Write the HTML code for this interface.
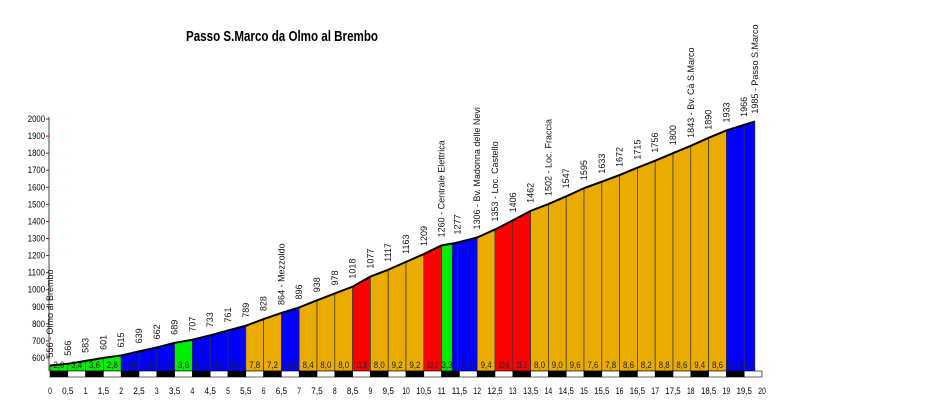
<!DOCTYPE html>
<html><head><meta charset="utf-8"><style>
html,body{margin:0;padding:0;background:#fff;}
svg{display:block;font-family:"Liberation Sans",sans-serif;}
</style></head><body>
<svg id="chart" width="935" height="406" viewBox="0 0 935 406" xmlns="http://www.w3.org/2000/svg">
<text x="186" y="41" font-size="15" font-weight="bold" textLength="192" lengthAdjust="spacingAndGlyphs">Passo S.Marco da Olmo al Brembo</text>
<g id="plot"></g>
</svg>
<script>
const distances = [0,0.5,1,1.5,2,2.5,3,3.5,4,4.5,5,5.5,6,6.5,7,7.5,8,8.5,9,9.5,10,10.5,11,11.3,11.45,12,12.5,13,13.5,14,14.5,15,15.5,16,16.5,17,17.5,18,18.5,19,19.5,19.8];
const elevations = [556,566,583,601,615,639,662,689,707,733,761,789,828,864,896,938,978,1018,1077,1117,1163,1209,1260,1270,1277,1306,1353,1406,1462,1502,1547,1595,1633,1672,1715,1756,1800,1843,1890,1933,1966,1985];
const pointNames = {0:"Olmo al Brembo",13:"Mezzoldo",22:"Centrale Elettrica",25:"Bv. Madonna delle Nevi",26:"Loc. Castello",29:"Loc. Fraccia",37:"Bv. Cà S.Marco",41:"Passo S.Marco"};
const hiddenPointLabels = [23];
const gradients = ["2,0","3,4","3,6","2,8","4,8","4,6","5,4","3,6","5,2","5,6","5,6","7,8","7,2","6,4","8,4","8,0","8,0","11,8","8,0","9,2","9,2","10,2","3,3","","5,8","9,4","10,6","11,2","8,0","9,0","9,6","7,6","7,8","8,6","8,2","8,8","8,6","9,4","8,6","6,6","6,3"];
const yTicks = [600,700,800,900,1000,1100,1200,1300,1400,1500,1600,1700,1800,1900,2000];
const xTicks = ["0","0,5","1","1,5","2","2,5","3","3,5","4","4,5","5","5,5","6","6,5","7","7,5","8","8,5","9","9,5","10","10,5","11","11,5","12","12,5","13","13,5","14","14,5","15","15,5","16","16,5","17","17,5","18","18,5","19","19,5","20"];

const X0=50, KM=35.6, Y600=358, PX100=17.07, BASE=371;
const xs = d => X0 + d*KM;
const ys = e => Y600 - (e-600)*PX100/100;
const NS="http://www.w3.org/2000/svg";
const g=document.getElementById('plot');
function mk(tag,attrs,parent){const e=document.createElementNS(NS,tag);for(const k in attrs)e.setAttribute(k,attrs[k]);(parent||g).appendChild(e);return e;}
function colorFor(p){return p<4?'#00ee00':p<7?'#0000ff':p<10?'#eaac00':'#ff0000';}

// y axis
let ax=mk('line',{x1:49,y1:117,x2:49,y2:BASE,stroke:'#444','stroke-width':1});


yTicks.forEach(v=>{
  const y=ys(v);
  const t=mk('line',{x1:46,y1:y,x2:49,y2:y,stroke:'#d00','stroke-width':1});
  
  
  const l=mk('text',{x:45,y:y+3,'font-size':9,'text-anchor':'end',textLength:(String(v).length*4.3),lengthAdjust:'spacingAndGlyphs'});
  l.textContent=v;
  
  
});

// segments
for(let i=0;i<distances.length-1;i++){
  const x1=xs(distances[i]),x2=xs(distances[i+1]),y1=ys(elevations[i]),y2=ys(elevations[i+1]);
  const p=(elevations[i+1]-elevations[i])/((distances[i+1]-distances[i])*1000)*100;
  const poly=mk('polygon',{points:`${x1},${BASE} ${x1},${y1} ${x2},${y2} ${x2},${BASE}`,fill:colorFor(p),stroke:'#333','stroke-width':0.7});
  
  
  if(gradients[i]){
    const gt=mk('text',{x:(x1+x2)/2,y:BASE-3,'font-size':9,'text-anchor':'middle',textLength:11,lengthAdjust:'spacingAndGlyphs',fill:'#222'});
    gt.textContent=gradients[i];
    
    
  }
}
// profile line
const pl=mk('polyline',{points:distances.map((d,i)=>xs(d)+','+ys(elevations[i])).join(' '),fill:'none',stroke:'#000','stroke-width':2});



// elevation labels
distances.forEach((d,i)=>{
  if(hiddenPointLabels.includes(i))return;
  const x=xs(d)+3, y=ys(elevations[i])-8;
  const txt=elevations[i]+(pointNames[i]?' - '+pointNames[i]:'');
  const t=mk('text',{x:x,y:y,'font-size':9,transform:`rotate(-90 ${x} ${y})`,fill:'#111'});
  t.textContent=txt;
  
  
});

// km strip and x labels
for(let k=0;k<40;k++){
  const r=mk('rect',{x:xs(k*0.5),y:BASE,width:KM/2,height:6,fill:k%2?'#fff':'#000',stroke:'#000','stroke-width':0.6});
  
  
}
xTicks.forEach((s,i)=>{
  const t=mk('text',{x:xs(i*0.5),y:394,'font-size':9,'text-anchor':'middle',textLength:s.length*3.8,lengthAdjust:'spacingAndGlyphs'});
  t.textContent=s;
  
  
});
</script>
</body></html>
